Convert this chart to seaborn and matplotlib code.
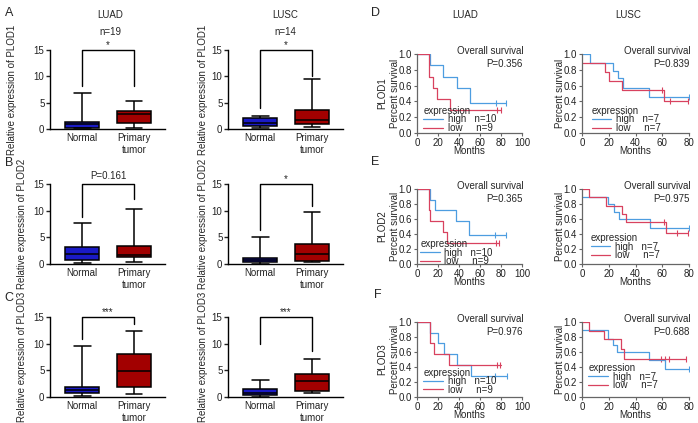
import numpy as np
import pandas as pd
import matplotlib
matplotlib.use("Agg")
import matplotlib.pyplot as plt
import seaborn as sns

sns.set_style("ticks")
plt.rcParams['font.family'] = ['Liberation Sans', 'DejaVu Sans']
plt.rcParams['font.size'] = 7

W, H = 698, 423

groups = ["Normal", "Primary\ntumor"]
box_colors = {"Normal": "#1a1ac6", "Primary\ntumor": "#a20000"}
km_colors = {"high": "#4d9de0", "low": "#d8425f"}

# box summaries: min, Q1, median, Q3, max
luad_plod1_normal = [0.1, 0.25, 0.9, 1.3, 6.8]
luad_plod1_tumor = [0.2, 1.1, 2.8, 3.5, 5.4]
lusc_plod1_normal = [0.1, 0.5, 1.2, 2.0, 2.5]
lusc_plod1_tumor = [0.3, 0.9, 1.8, 3.6, 9.5]
luad_plod2_normal = [0.1, 0.8, 1.9, 3.1, 7.6]
luad_plod2_tumor = [0.3, 1.3, 1.7, 3.4, 10.4]
lusc_plod2_normal = [0.05, 0.4, 0.8, 1.1, 5.1]
lusc_plod2_tumor = [0.3, 0.6, 1.8, 3.7, 9.7]
luad_plod3_normal = [0.1, 0.75, 1.3, 1.8, 9.6]
luad_plod3_tumor = [0.5, 1.9, 4.8, 8.0, 12.4]
lusc_plod3_normal = [0.05, 0.4, 0.8, 1.5, 3.2]
lusc_plod3_tumor = [0.8, 1.2, 3.0, 4.4, 7.1]

sig_labels = ["*", "*", "P=0.161", "*", "***", "***"]
bracket_left = [8.2, 4.0, 8.8, 6.3, 10.8, 10.0]
bracket_right = [8.2, 10.1, 12.2, 10.9, 13.6, 8.6]

# survival curves: step times, survival, censor times
d_luad_high_t = [0, 12, 25, 38, 50, 85]
d_luad_high_s = [1.0, 0.857, 0.714, 0.571, 0.381, 0.381]
d_luad_high_c = [75, 85]
d_luad_low_t = [0, 11.5, 15, 19, 31, 80]
d_luad_low_s = [1.0, 0.714, 0.571, 0.429, 0.286, 0.286]
d_luad_low_c = [76, 80]

d_lusc_high_t = [0, 5.7, 23, 27, 31, 50, 80]
d_lusc_high_s = [1.0, 0.89, 0.79, 0.69, 0.57, 0.46, 0.46]
d_lusc_high_c = [80]
d_lusc_low_t = [0, 17, 20.5, 30, 61, 80]
d_lusc_low_s = [0.89, 0.77, 0.66, 0.55, 0.41, 0.41]
d_lusc_low_c = [60, 66, 79]

e_luad_high_t = [0, 12.8, 17.6, 36.7, 49.5, 85]
e_luad_high_s = [1.0, 0.857, 0.714, 0.571, 0.381, 0.381]
e_luad_high_c = [74, 85]
e_luad_low_t = [0, 11.2, 12.8, 24.6, 28.8, 78]
e_luad_low_s = [1.0, 0.714, 0.571, 0.429, 0.286, 0.286]
e_luad_low_c = [75, 78]

e_lusc_high_t = [0, 19.5, 24, 27.7, 51, 81]
e_lusc_high_s = [0.9, 0.8, 0.7, 0.6, 0.48, 0.48]
e_lusc_high_c = [80]
e_lusc_low_t = [0, 5, 18, 30, 33, 63, 79]
e_lusc_low_s = [1.0, 0.89, 0.78, 0.67, 0.56, 0.42, 0.42]
e_lusc_low_c = [61, 71, 79]

f_luad_high_t = [0, 12, 20, 25.6, 38, 51, 86]
f_luad_high_s = [1.0, 0.857, 0.714, 0.571, 0.429, 0.286, 0.286]
f_luad_high_c = [74, 86]
f_luad_low_t = [0, 12, 16, 30, 80]
f_luad_low_s = [1.0, 0.714, 0.571, 0.429, 0.429]
f_luad_low_c = [76, 79]

f_lusc_high_t = [0, 19.4, 23.4, 26.4, 50.3, 62, 80]
f_lusc_high_s = [0.89, 0.78, 0.69, 0.6, 0.49, 0.37, 0.37]
f_lusc_high_c = [80]
f_lusc_low_t = [0, 5, 16.6, 29, 31.7, 78]
f_lusc_low_s = [1.0, 0.88, 0.77, 0.64, 0.51, 0.51]
f_lusc_low_c = [59.4, 62, 65, 78]

km_pvalues = ["P=0.356", "P=0.839", "P=0.365", "P=0.975", "P=0.976", "P=0.688"]

fig = plt.figure(figsize=(W / 100, H / 100), dpi=100)


def px_axes(x0, x1, y0, y1):
    return fig.add_axes([x0 / W, 1 - y1 / H, (x1 - x0) / W, (y1 - y0) / H])


def px_text(x, y, s, **kw):
    kw.setdefault("ha", "center")
    kw.setdefault("va", "center")
    fig.text(x / W, 1 - y / H, s, **kw)


def box_panel(x0, y0, y1, normal, tumor, gene, i, label_x):
    ax = px_axes(x0, x0 + 115, y0, y1)
    df = pd.DataFrame({"group": np.repeat(groups, 5), "value": normal + tumor})
    sns.boxplot(data=df, x="group", y="value", hue="group", order=groups,
                palette=box_colors, width=0.65, whis=(0, 100), saturation=1,
                linecolor="black", linewidth=1.1, legend=False, ax=ax)
    ax.set_xlim(-0.62, 1.6)
    ax.set_ylim(0, 15)
    ax.set_yticks([0, 5, 10, 15])
    ax.set_xlabel("")
    ax.set_ylabel(f"Relative expression of {gene}", fontsize=7)
    # the label anchor is its right edge, so shift by half a line
    ax.yaxis.set_label_coords((label_x + 5 - x0) / 115, 0.5)
    sns.despine(ax=ax)
    for sp in ax.spines.values():
        sp.set_linewidth(1.0)
        sp.set_color("black")
    ax.tick_params(axis="y", length=3, width=1, pad=1, labelsize=7, colors="#222")
    ax.tick_params(axis="x", length=0, pad=3, labelsize=7, colors="#222")
    ax.plot([0, 0, 1, 1], [bracket_left[i], 15, 15, bracket_right[i]],
            color="black", lw=1, clip_on=False)
    sig = sig_labels[i]
    ax.text(0.5, 15.9 if sig.startswith("P") else 15.3, sig, ha="center",
            va="baseline", fontsize=7, clip_on=False)
    return ax


def km_panel(x0, x1, y0, y1, xmax, curves, pval, gene, leg_xy):
    ax = px_axes(x0, x1, y0, y1)
    for key, t, s, c, n in curves:
        pad = "   " if key == "high" else "     "
        sns.lineplot(x=t, y=s, drawstyle="steps-post", color=km_colors[key],
                     lw=0.9, estimator=None, sort=False,
                     label=f"{key}{pad}n={n}", ax=ax)
        cy = np.array(s)[np.searchsorted(t, c, side="right") - 1]
        sns.scatterplot(x=c, y=cy, marker="|", s=14, color=km_colors[key],
                        linewidth=0.8, legend=False, ax=ax)
    ax.set_xlim(0, xmax)
    ax.set_ylim(0, 1.0)
    ax.set_xticks(np.arange(0, xmax + 1, 20))
    ax.set_yticks(np.arange(0, 1.01, 0.2))
    ax.yaxis.set_major_formatter(matplotlib.ticker.FormatStrFormatter("%.1f"))
    sns.despine(ax=ax)
    for sp in ax.spines.values():
        sp.set_linewidth(0.9)
        sp.set_color("#666")
    ax.tick_params(length=2.5, width=0.8, pad=1, labelsize=7, color="#666",
                   labelcolor="#222")
    ax.set_xlabel("Months", fontsize=7, labelpad=-1)
    ax.set_ylabel("Percent survival", fontsize=7)
    ax.yaxis.set_label_coords(-17 / (x1 - x0), 0.5)
    if gene:
        ax.text(-35 / (x1 - x0), 0.5, gene, rotation=90, transform=ax.transAxes,
                ha="center", va="center", fontsize=7)
    ax.annotate("Overall survival", xy=(1.01, 1), xycoords="axes fraction",
                xytext=(0, 3), textcoords="offset pixels", ha="right",
                va="center", fontsize=7)
    ax.annotate(pval, xy=(1.01, 1), xycoords="axes fraction",
                xytext=(0, -10), textcoords="offset pixels", ha="right",
                va="center", fontsize=7)
    ax.legend(title="expression", loc="lower left", bbox_to_anchor=leg_xy,
              frameon=False, fontsize=7, title_fontsize=7, handlelength=2.0,
              handletextpad=0.5, labelspacing=-0.15, borderpad=0,
              borderaxespad=0, alignment="left")
    return ax


# boxplot panels A-C
box_rows = [(50, 129), (184, 264), (317, 397)]
box_data = [
    (luad_plod1_normal, luad_plod1_tumor, lusc_plod1_normal, lusc_plod1_tumor, "PLOD1"),
    (luad_plod2_normal, luad_plod2_tumor, lusc_plod2_normal, lusc_plod2_tumor, "PLOD2"),
    (luad_plod3_normal, luad_plod3_tumor, lusc_plod3_normal, lusc_plod3_tumor, "PLOD3"),
]
luad_label_x = [12, 22, 22]
for r, ((y0, y1), (ln, lt, sn, st, gene)) in enumerate(zip(box_rows, box_data)):
    box_panel(50, y0, y1, ln, lt, gene, 2 * r, luad_label_x[r])
    box_panel(228, y0, y1, sn, st, gene, 2 * r + 1, 203)

px_text(110, 15, "LUAD", fontsize=7)
px_text(110, 32, "n=19", fontsize=7)
px_text(285, 15, "LUSC", fontsize=7)
px_text(285, 32, "n=14", fontsize=7)

# survival panels D-F
km_rows = [(54, 133), (189, 264), (322, 397)]
genes = ["PLOD1", "PLOD2", "PLOD3"]
luad_curves = [
    [("high", d_luad_high_t, d_luad_high_s, d_luad_high_c, 10),
     ("low", d_luad_low_t, d_luad_low_s, d_luad_low_c, 9)],
    [("high", e_luad_high_t, e_luad_high_s, e_luad_high_c, 10),
     ("low", e_luad_low_t, e_luad_low_s, e_luad_low_c, 9)],
    [("high", f_luad_high_t, f_luad_high_s, f_luad_high_c, 10),
     ("low", f_luad_low_t, f_luad_low_s, f_luad_low_c, 9)],
]
lusc_curves = [
    [("high", d_lusc_high_t, d_lusc_high_s, d_lusc_high_c, 7),
     ("low", d_lusc_low_t, d_lusc_low_s, d_lusc_low_c, 7)],
    [("high", e_lusc_high_t, e_lusc_high_s, e_lusc_high_c, 7),
     ("low", e_lusc_low_t, e_lusc_low_s, e_lusc_low_c, 7)],
    [("high", f_lusc_high_t, f_lusc_high_s, f_lusc_high_c, 7),
     ("low", f_lusc_low_t, f_lusc_low_s, f_lusc_low_c, 7)],
]
luad_leg = [(0.06, 0.0), (0.03, -0.03), (0.06, 0.03)]
lusc_leg = [(0.09, 0.0), (0.08, 0.05), (0.06, 0.09)]
for r, (y0, y1) in enumerate(km_rows):
    km_panel(417, 522, y0, y1, 100, luad_curves[r], km_pvalues[2 * r], genes[r], luad_leg[r])
    km_panel(582, 689, y0, y1, 80, lusc_curves[r], km_pvalues[2 * r + 1], None, lusc_leg[r])

px_text(465, 15, "LUAD", fontsize=7)
px_text(628, 15, "LUSC", fontsize=7)

for letter, x, y in [("A", 9, 13), ("B", 9, 163), ("C", 9, 298),
                     ("D", 375, 13), ("E", 375, 162), ("F", 378, 295)]:
    px_text(x, y, letter, fontsize=9)

fig.savefig("out.png", dpi=100)
